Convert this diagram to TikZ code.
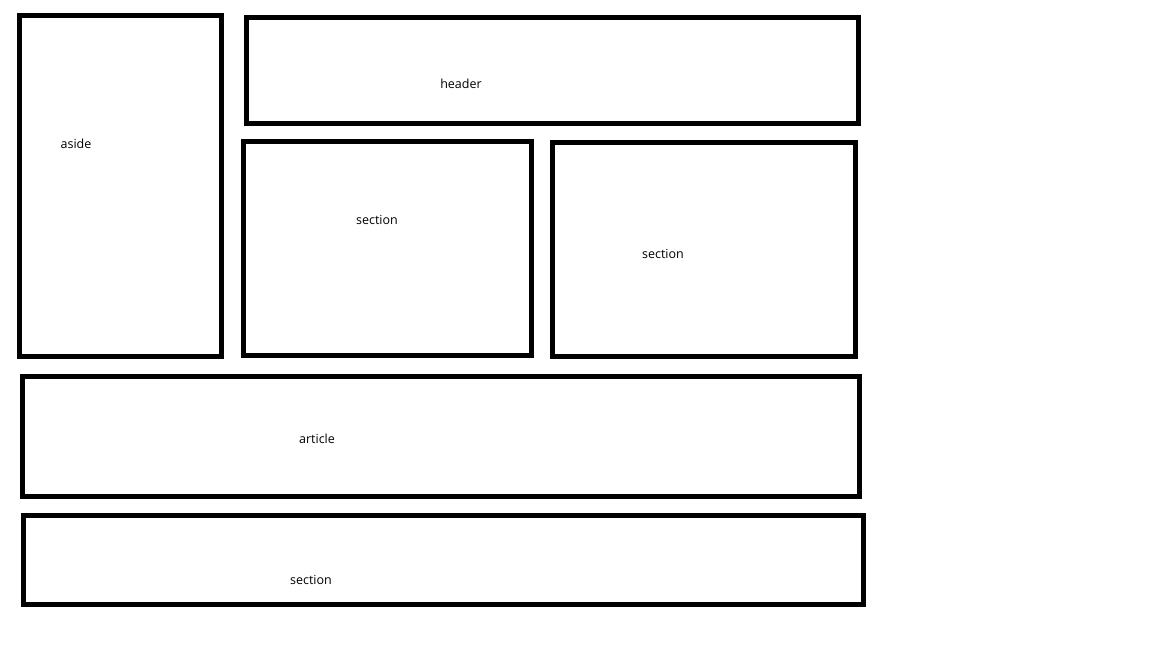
\documentclass[tikz,border=0pt]{standalone}
\usepackage{fontspec}
\setmainfont{Open Sans}
\begin{document}
\begin{tikzpicture}[x=1pt,y=-1pt,
  box/.style={draw=black,line width=5pt},
  lbl/.style={inner sep=0pt,font=\fontsize{12.5}{15}\selectfont,text=black}]
\useasboundingbox (0,0) rectangle (1152,648);
\draw[box] (19.5,15.5) rectangle (221,356);
\draw[box] (246,17.5) rectangle (858.5,123.5);
\draw[box] (243,141) rectangle (531,355);
\draw[box] (552.5,142.5) rectangle (855.5,356.5);
\draw[box] (22,376.5) rectangle (859.5,496.5);
\draw[box] (23,515.5) rectangle (863.5,604.5);
\node[lbl] (aside) at (76,144) {aside};
\node[lbl] (header) at (461,84) {header};
\node[lbl] (s1) at (377,220) {section};
\node[lbl] (s2) at (663,254) {section};
\node[lbl] (art) at (317,439) {article};
\node[lbl] (s3) at (311,580) {section};
\end{tikzpicture}
\end{document}
